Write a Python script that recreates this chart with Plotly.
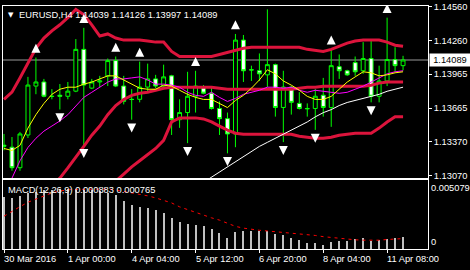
import plotly.graph_objects as go

# ---------------- data ----------------
BAR_IDX = list(range(51))
OPEN = [1.13337, 1.13319, 1.13138, 1.13427, 1.13859, 1.13895, 1.13769, 1.13778, 1.13769, 1.13814,
        1.14183, 1.13841, 1.13895, 1.13949, 1.14084, 1.13859, 1.13742, 1.13742, 1.13850, 1.13922,
        1.13859, 1.13949, 1.13562, 1.13625, 1.13769, 1.13850, 1.13796, 1.13661, 1.13571, 1.13436,
        1.14265, 1.14003, 1.13994, 1.13958, 1.14048, 1.13670, 1.13850, 1.13706, 1.13661, 1.13661,
        1.13778, 1.13670, 1.14030, 1.13994, 1.14066, 1.13994, 1.14102, 1.13769, 1.13904, 1.14093,
        1.14039]
HIGH = [1.13436, 1.13409, 1.13454, 1.13940, 1.14111, 1.13922, 1.13832, 1.13877, 1.13895, 1.14274,
        1.14373, 1.13922, 1.13949, 1.14102, 1.14120, 1.13949, 1.13832, 1.14075, 1.14057, 1.13958,
        1.14048, 1.13958, 1.13742, 1.13985, 1.13994, 1.13868, 1.13850, 1.13724, 1.13625, 1.14319,
        1.14310, 1.14039, 1.14147, 1.14536, 1.14057, 1.13994, 1.13859, 1.13805, 1.13706, 1.13832,
        1.13931, 1.14183, 1.14138, 1.14003, 1.14120, 1.14247, 1.14265, 1.14039, 1.14463, 1.14202,
        1.14126]
LOW = [1.13292, 1.13111, 1.13111, 1.13400, 1.13787, 1.13760, 1.13742, 1.13652, 1.13742, 1.13805,
       1.13337, 1.13832, 1.13850, 1.13859, 1.13850, 1.13697, 1.13562, 1.13715, 1.13814, 1.13841,
       1.13832, 1.13427, 1.13490, 1.13355, 1.13625, 1.13787, 1.13652, 1.13427, 1.13265, 1.13319,
       1.13895, 1.13904, 1.13904, 1.13850, 1.13589, 1.13364, 1.13607, 1.13652, 1.13589, 1.13472,
       1.13589, 1.13499, 1.13922, 1.13949, 1.13949, 1.13967, 1.13715, 1.13715, 1.13859, 1.13985,
       1.13997]
CLOSE = [1.13328, 1.13138, 1.13436, 1.13868, 1.13895, 1.13769, 1.13767, 1.13769, 1.13814, 1.14183,
         1.13868, 1.13895, 1.13904, 1.14084, 1.13859, 1.13724, 1.13740, 1.13850, 1.13922, 1.13859,
         1.13940, 1.13562, 1.13625, 1.13769, 1.13859, 1.13796, 1.13661, 1.13571, 1.13436, 1.14265,
         1.13994, 1.14001, 1.13967, 1.14048, 1.13670, 1.13850, 1.13715, 1.13661, 1.13659, 1.13769,
         1.13670, 1.14039, 1.13994, 1.13958, 1.13985, 1.14102, 1.13769, 1.13904, 1.14093, 1.14039,
         1.14089]

BB_UPPER = [1.13742, 1.13805, 1.13931, 1.14066, 1.14192, 1.14283, 1.14346, 1.14400, 1.14463, 1.14536,
            1.14490, 1.14400, 1.14301, 1.14319, 1.14283, 1.14265, 1.14265, 1.14265, 1.14256, 1.14247,
            1.14247, 1.14165, 1.14120, 1.14120, 1.14120, 1.14120, 1.14120, 1.14138, 1.14156, 1.14174,
            1.14192, 1.14202, 1.14202, 1.14202, 1.14202, 1.14202, 1.14202, 1.14202, 1.14183, 1.14174,
            1.14165, 1.14183, 1.14211, 1.14238, 1.14256, 1.14265, 1.14265, 1.14265, 1.14247, 1.14220,
            1.14211]
BB_MIDDLE = [1.12477, 1.12567, 1.12657, 1.12748, 1.12838, 1.12910, 1.12982, 1.13046, 1.13136, 1.13226,
             1.13326, 1.13425, 1.13506, 1.13606, 1.13687, 1.13741, 1.13777, 1.13795, 1.13804, 1.13822,
             1.13840, 1.13849, 1.13849, 1.13849, 1.13849, 1.13849, 1.13849, 1.13840, 1.13831, 1.13831,
             1.13831, 1.13831, 1.13831, 1.13831, 1.13831, 1.13831, 1.13831, 1.13840, 1.13849, 1.13849,
             1.13858, 1.13858, 1.13858, 1.13858, 1.13858, 1.13858, 1.13867, 1.13885, 1.13894, 1.13894,
             1.13894]
BB_LOWER = [None] * 13 + [
    1.12928, 1.13019, 1.13082, 1.13145, 1.13199, 1.13253, 1.13308, 1.13380, 1.13542, 1.13578,
    1.13578, 1.13578, 1.13569, 1.13542, 1.13506, 1.13470, 1.13443, 1.13434, 1.13434, 1.13434,
    1.13434, 1.13434, 1.13434, 1.13434, 1.13416, 1.13407, 1.13398, 1.13398, 1.13407, 1.13425,
    1.13434, 1.13443, 1.13443, 1.13443, 1.13488, 1.13542, 1.13587, 1.13587]

MA_FAST = [1.13308, 1.13290, 1.13335, 1.13488, 1.13606, 1.13705, 1.13786, 1.13831, 1.13849, 1.13849,
           1.13876, 1.13894, 1.13922, 1.13949, 1.13949, 1.13913, 1.13876, 1.13840, 1.13831, 1.13831,
           1.13867, 1.13858, 1.13822, 1.13786, 1.13759, 1.13741, 1.13741, 1.13705, 1.13669, 1.13732,
           1.13777, 1.13840, 1.13913, 1.14003, 1.13967, 1.13904, 1.13867, 1.13822, 1.13768, 1.13741,
           1.13741, 1.13768, 1.13831, 1.13894, 1.13940, 1.13985, 1.13976, 1.13949, 1.13958, 1.13976,
           1.13985]
MA_MID = [1.12928, 1.13046, 1.13199, 1.13317, 1.13398, 1.13461, 1.13506, 1.13551, 1.13606, 1.13678,
          1.13759, 1.13804, 1.13849, 1.13894, 1.13922, 1.13922, 1.13931, 1.13940, 1.13913, 1.13876,
          1.13876, 1.13867, 1.13849, 1.13804, 1.13777, 1.13768, 1.13804, 1.13759, 1.13723, 1.13750,
          1.13786, 1.13804, 1.13822, 1.13849, 1.13849, 1.13840, 1.13849, 1.13822, 1.13804, 1.13822,
          1.13813, 1.13804, 1.13795, 1.13804, 1.13831, 1.13858, 1.13894, 1.13931, 1.13967, 1.13985,
          1.13994]
MA_SLOW = [None] * 24 + [
    1.12964, 1.13010, 1.13055, 1.13100, 1.13145, 1.13190, 1.13235, 1.13280, 1.13326, 1.13362,
    1.13398, 1.13434, 1.13470, 1.13506, 1.13542, 1.13587, 1.13624, 1.13651, 1.13687, 1.13714,
    1.13732, 1.13750, 1.13768, 1.13786, 1.13813, 1.13831, 1.13849]

UP_FRACTALS = [4, 10, 14, 17, 24, 29, 33, 41, 48]
DOWN_FRACTALS = [7, 10, 16, 23, 28, 35, 39, 46]

MACD_MAIN = [0.00380, 0.00372, 0.00387, 0.00409, 0.00421, 0.00435, 0.00435, 0.00440, 0.00440, 0.00440,
             0.00435, 0.00435, 0.00428, 0.00411, 0.00397, 0.00356, 0.00327, 0.00307, 0.00300, 0.00288,
             0.00268, 0.00227, 0.00198, 0.00181, 0.00174, 0.00169, 0.00150, 0.00118, 0.00082, 0.00123,
             0.00133, 0.00133, 0.00131, 0.00133, 0.00109, 0.00102, 0.00082, 0.00065, 0.00046, 0.00046,
             0.00029, 0.00053, 0.00060, 0.00060, 0.00070, 0.00082, 0.00060, 0.00065, 0.00073, 0.00078,
             0.000883]
MACD_SIGNAL = [0.00242, 0.00279, 0.00312, 0.00345, 0.00370, 0.00395, 0.00414, 0.00427, 0.00437, 0.00440,
               0.00441, 0.00445, 0.00445, 0.00442, 0.00435, 0.00424, 0.00414, 0.00405, 0.00392, 0.00377,
               0.00361, 0.00340, 0.00311, 0.00290, 0.00271, 0.00252, 0.00230, 0.00213, 0.00187, 0.00167,
               0.00154, 0.00144, 0.00138, 0.00133, 0.00128, 0.00123, 0.00118, 0.00114, 0.00109, 0.00100,
               0.00091, 0.00084, 0.00078, 0.00073, 0.00068, 0.00065, 0.00063, 0.00065, 0.00070, 0.00075,
               0.000765]

PRICE_TICKS = [1.13070, 1.13370, 1.13665, 1.13965, 1.14260, 1.14560]
DATE_TICK_IDX = [0, 8, 16, 24, 32, 40, 48]
DATE_LABELS = ["30 Mar 2016", "1 Apr 00:00", "4 Apr 04:00", "5 Apr 12:00",
               "6 Apr 20:00", "8 Apr 04:00", "11 Apr 08:00"]
SYMBOL = "EURUSD,H4"
MACD_NAME = "MACD(12,26,9)"
MACD_SCALE = [0.005079, 0.0]

# ---------------- styling / layout ----------------
FONT = "Liberation Sans"
FS = 9.3
Y_MIN, Y_MAX = 1.130457, 1.145659
MAIN_H_PX = 175.0
PX = (Y_MAX - Y_MIN) / MAIN_H_PX  # price per pixel
RED = "#dc143c"

fig = go.Figure()

# bid line
fig.add_shape(type="line", xref="x domain", yref="y", x0=0, x1=1,
              y0=CLOSE[-1], y1=CLOSE[-1], line=dict(color="#9a9a9a", width=1), layer="below")

for band in (BB_UPPER, BB_MIDDLE, BB_LOWER):
    fig.add_trace(go.Scatter(x=BAR_IDX, y=band, mode="lines", line=dict(color=RED, width=3),
                             xaxis="x", yaxis="y", hoverinfo="skip"))
fig.add_trace(go.Scatter(x=BAR_IDX, y=MA_SLOW, mode="lines", line=dict(color="white", width=1),
                         xaxis="x", yaxis="y"))
fig.add_trace(go.Scatter(x=BAR_IDX, y=MA_MID, mode="lines", line=dict(color="#ff00ff", width=1),
                         xaxis="x", yaxis="y"))
fig.add_trace(go.Scatter(x=BAR_IDX, y=MA_FAST, mode="lines", line=dict(color="#ffff00", width=1),
                         xaxis="x", yaxis="y"))

fig.add_trace(go.Candlestick(
    x=BAR_IDX, open=OPEN, high=HIGH, low=LOW, close=CLOSE, xaxis="x", yaxis="y",
    increasing=dict(line=dict(color="#00ff00", width=1), fillcolor="black"),
    decreasing=dict(line=dict(color="#00ff00", width=1), fillcolor="white"),
    whiskerwidth=0))

fig.add_trace(go.Scatter(
    x=UP_FRACTALS, y=[HIGH[i] + 14 * PX for i in UP_FRACTALS], mode="markers",
    marker=dict(symbol="arrow-up", size=9, color="white", line=dict(width=0)),
    xaxis="x", yaxis="y", cliponaxis=True))
fig.add_trace(go.Scatter(
    x=DOWN_FRACTALS, y=[LOW[i] - 13 * PX for i in DOWN_FRACTALS], mode="markers",
    marker=dict(symbol="arrow-down", size=9, color="white", line=dict(width=0)),
    xaxis="x", yaxis="y", cliponaxis=True))

# MACD window
fig.add_trace(go.Bar(x=BAR_IDX, y=MACD_MAIN, width=0.125, marker=dict(color="#c0c0c0", line=dict(width=0)),
                     xaxis="x2", yaxis="y2"))
fig.add_trace(go.Scatter(x=BAR_IDX, y=MACD_SIGNAL, mode="lines",
                         line=dict(color="#ff0000", width=1, dash="3px,4px"), xaxis="x2", yaxis="y2"))

axis_common = dict(showgrid=False, zeroline=False, showline=True, linecolor="white", linewidth=1,
                   mirror=True)
x_range = [-0.125, 53.125]

fig.update_layout(
    width=470, height=270, margin=dict(l=2, r=42, t=2, b=21, pad=0),
    paper_bgcolor="black", plot_bgcolor="black", showlegend=False,
    font=dict(family=FONT, size=FS, color="white"),
    bargap=0,
    xaxis=dict(domain=[0, 1], anchor="y", range=x_range, showticklabels=False, ticks="",
               rangeslider=dict(visible=False), **axis_common),
    yaxis=dict(domain=[0.2915, 1], anchor="x", range=[Y_MIN, Y_MAX], side="right",
               tickmode="array", tickvals=PRICE_TICKS, ticktext=[f"{v:.5f}" for v in PRICE_TICKS],
               ticks="outside", ticklen=3, tickcolor="white", ticklabeloverflow="allow",
               tickfont=dict(family=FONT, size=FS, color="white"), **axis_common),
    xaxis2=dict(domain=[0, 1], anchor="y2", range=x_range, matches="x", showticklabels=False,
                tickvals=DATE_TICK_IDX, ticks="outside", ticklen=3, tickcolor="white", **axis_common),
    yaxis2=dict(domain=[0, 0.2834], anchor="x2", range=[0, MACD_SCALE[0]], showticklabels=False,
                ticks="", **axis_common),
)

ann = []
ann.append(dict(text="▼", xref="paper", yref="paper", x=0, y=1, xanchor="left", yanchor="top",
                xshift=3, yshift=-3, showarrow=False, font=dict(size=7, color="white", family="DejaVu Sans")))
ann.append(dict(text=f"{SYMBOL} {OPEN[-1]:.5f} {HIGH[-1]:.5f} {LOW[-1]:.5f} {CLOSE[-1]:.5f}",
                xref="paper", yref="paper", x=0, y=1, xanchor="left", yanchor="top",
                xshift=14, yshift=-2, showarrow=False))
ann.append(dict(text=f"{MACD_NAME} {MACD_MAIN[-1]:.6f} {MACD_SIGNAL[-1]:.6f}",
                xref="paper", yref="y2 domain", x=0, y=1, xanchor="left", yanchor="top",
                xshift=3, yshift=-3, showarrow=False))
ann.append(dict(text=f"{MACD_SCALE[0]:.6f}", xref="paper", yref="y2 domain", x=1, y=1,
                xanchor="left", yanchor="top", xshift=1, yshift=-1, showarrow=False))
ann.append(dict(text="0", xref="paper", yref="y2 domain", x=1, y=0,
                xanchor="left", yanchor="bottom", xshift=1, yshift=0, showarrow=False))
ann.append(dict(text=f"{CLOSE[-1]:.5f}", xref="paper", yref="y", x=1, y=CLOSE[-1],
                xanchor="left", yanchor="middle", xshift=1, showarrow=False, bgcolor="white",
                width=38, font=dict(color="black", size=FS, family=FONT)))
for idx, lab in zip(DATE_TICK_IDX, DATE_LABELS):
    ann.append(dict(text=lab, xref="x2", yref="paper", x=idx, y=0, xanchor="left", yanchor="top",
                    xshift=-2, yshift=-3, showarrow=False))
fig.update_layout(annotations=ann)

fig.write_html("out.html")
